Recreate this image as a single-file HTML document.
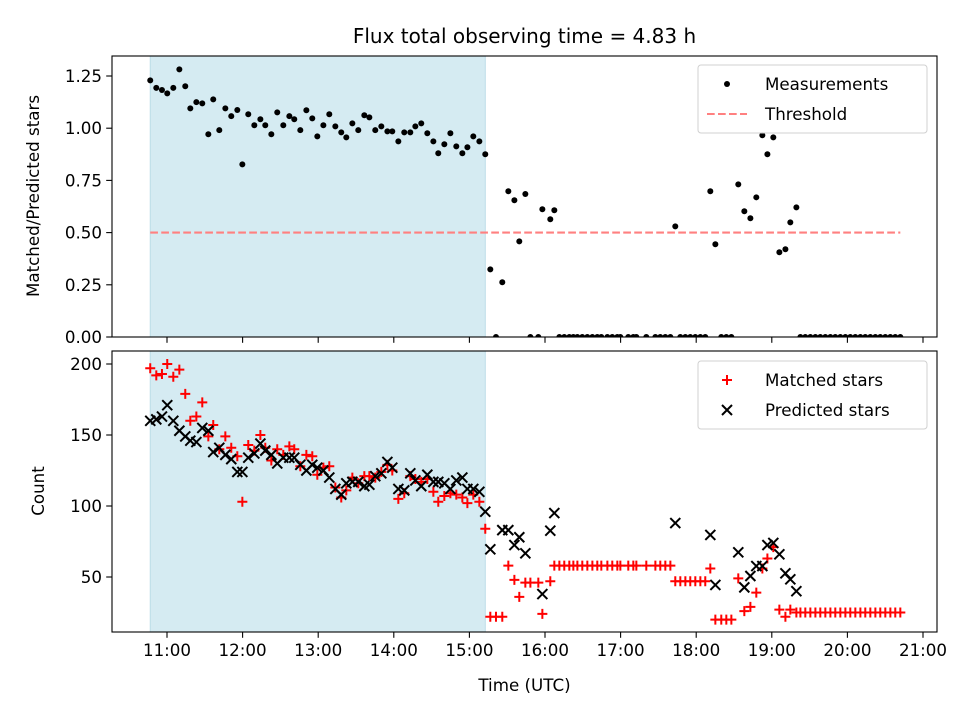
<!DOCTYPE html>
<html><head><meta charset="utf-8">
<style>
body{margin:0;background:#fff;}
svg{display:block;font-family:"DejaVu Sans","Liberation Sans",sans-serif;}
</style></head>
<body>
<svg id="chart" width="960" height="720" viewBox="0 0 960 720" xmlns="http://www.w3.org/2000/svg">
<defs>
<clipPath id="clipTop"><rect x="112" y="56" width="825" height="281"/></clipPath>
<clipPath id="clipBot"><rect x="112" y="351" width="825" height="281"/></clipPath>
</defs>
<rect width="960" height="720" fill="#fff"/>
<text x="524.5" y="43" font-size="20" text-anchor="middle">Flux total observing time = 4.83 h</text>
<g id="topAxes"></g>
<g id="botAxes"></g>
<text transform="translate(39,196) rotate(-90)" font-size="16.7" text-anchor="middle">Matched/Predicted stars</text>
<text transform="translate(44,491) rotate(-90)" font-size="16.7" text-anchor="middle">Count</text>
<text x="524.5" y="691" font-size="16.7" text-anchor="middle">Time (UTC)</text>
</svg>
<script>
// times in minutes since midnight (UTC)
const times = [646.7,651.5,656.0,660.2,665.0,669.8,674.5,678.5,683.3,688.0,692.8,696.7,701.5,706.3,711.0,715.8,719.8,724.5,729.3,734.1,738.0,742.8,747.5,752.3,757.1,761.0,765.8,770.6,775.3,779.3,784.1,788.8,793.6,798.3,802.3,807.1,811.8,816.6,820.6,825.3,830.1,834.9,838.8,843.6,848.3,853.1,857.1,861.8,866.6,871.4,875.3,880.1,884.9,889.6,894.4,898.4,903.1,907.9,912.6,
916.6,921.1,926.1,930.9,935.7,939.6,944.4,948.4,954.7,957.9,964.2,967.4,
971.4,975.3,979.3,982.5,985.7,989.6,993.6,997.6,1001.5,1004.7,1009.5,1013.4,1017.4,1019.8,1026.1,1030.1,1032.5,1040.4,1047.6,1051.5,1055.5,1059.5,
1063.4,1067.4,1071.4,1075.3,1079.3,1083.3,1087.2,1091.2,1095.2,1099.9,1103.9,1107.9,
1113.4,1118.2,1123.0,1127.7,1132.5,1136.5,1141.2,1146.0,1150.8,1154.7,1159.5,
1162.7,1166.6,1170.6,1174.6,1178.5,1182.5,1186.5,1190.4,1194.4,1198.4,1202.3,1206.3,1210.3,1214.2,1218.2,1222.2,1226.1,1230.1,1234.1,1238.0,1242.0];
const ratio = [1.229,1.193,1.183,1.167,1.193,1.282,1.201,1.095,1.125,1.119,0.971,1.138,0.991,1.095,1.058,1.087,0.827,1.067,1.014,1.043,1.014,0.971,1.076,1.014,1.058,1.043,0.991,1.086,1.047,0.961,1.014,1.067,1.009,0.980,0.956,1.023,0.991,1.062,1.052,0.991,1.009,0.985,0.985,0.937,0.980,0.980,1.009,1.023,0.976,0.937,0.880,0.923,0.976,0.913,0.880,0.909,0.961,0.937,0.875,
0.324,0,0.262,0.698,0.655,0.458,0.685,0,0,0.612,0.564,0.607,
0,0,0,0,0,0,0,0,0,0,0,0,0,0,0,0,0,0,0,0,0,0,
0.530,0,0,0,0,0,0,0.698,0.444,0,0,0,
0.731,0.602,0.569,0.669,0.966,0.875,0.956,0.406,0.420,0.549,0.621,
0,0,0,0,0,0,0,0,0,0,0,0,0,0,0,0,0,0,0,0,0];
const matched = [197,192,193,200,191,196,179,160,163,173,149,157,140,149,141,135,103,143,139,150,141,132,140,136,142,140,128,136,135,122,127,128,113,106,111,120,116,121,121,120,124,129,125,105,109,121,119,117,119,110,103,107,109,108,106,102,108,103,84,
22,22,22,58,48,36,46,46,46,24,47,58,
58,58,58,58,58,58,58,58,58,58,58,58,58,58,58,58,58,58,58,58,58,58,
47,47,47,47,47,47,47,56,20,20,20,20,
49,26,29,39,56,63,71,27,22,27,25,
25,25,25,25,25,25,25,25,25,25,25,25,25,25,25,25,25,25,25,25,25];
const predicted = [160,161,163,171,160,153,149,146,145,155,153,138,141,136,133,124,124,134,137,144,139,136,130,134,134,134,129,125,129,127,125,120,112,108,116,117,117,114,115,121,123,131,127,112,111,123,118,114,122,117,117,116,112,118,120,112,112,110,96,
69.5,null,83,83,72.5,78,66.7,null,null,38,82.6,95,
null,null,null,null,null,null,null,null,null,null,null,null,null,null,null,null,null,null,null,null,null,null,
88,null,null,null,null,null,null,79.6,44.4,null,null,null,
67.4,42.7,50.7,57.7,57.7,72.5,74,66,52.6,48.4,40,
null,null,null,null,null,null,null,null,null,null,null,null,null,null,null,null,null,null,null,null,null];
const threshold = 0.5;
const xTickLabels = ["11:00","12:00","13:00","14:00","15:00","16:00","17:00","18:00","19:00","20:00","21:00"];
const xTickMinutes = [660,720,780,840,900,960,1020,1080,1140,1200,1260];
const topTicks = [0,0.25,0.5,0.75,1.0,1.25];
const topTickLabels = ["0.00","0.25","0.50","0.75","1.00","1.25"];
const botTicks = [50,100,150,200];
const shadeStart = 646.7, shadeEnd = 912.6;

const NS="http://www.w3.org/2000/svg";
function mk(tag, attrs, parent){const e=document.createElementNS(NS,tag);for(const k in attrs)e.setAttribute(k,attrs[k]);parent.appendChild(e);return e;}
const X = t => 167 + (t-660)/60*75.6;
const YT = r => 337 - r*208.8;
const YB = c => 648 - c*1.42;
const topG=document.getElementById('topAxes'), botG=document.getElementById('botAxes');

function axesFrame(g, y0, y1, name, showLabels){
  const s=mk('rect',{x:X(shadeStart),y:y0,width:X(shadeEnd)-X(shadeStart),height:y1-y0,fill:'#d5ebf2',stroke:'#bcdde8','stroke-width':1},g);
  
  
  xTickMinutes.forEach((m,i)=>{
    const x=X(m);
    const t=mk('line',{x1:x,x2:x,y1:y1,y2:y1+5.8,stroke:'#000','stroke-width':1.1},g);
    
    
    if(showLabels){
      const l=mk('text',{x:x,y:y1+24,'font-size':16.7,'text-anchor':'middle'},g);
      l.textContent=xTickLabels[i];
      
      
    }
  });
}
axesFrame(topG,56,337,'top',false);
axesFrame(botG,351,632,'bottom',true);

topTicks.forEach((v,i)=>{
  const y=YT(v);
  const t=mk('line',{x1:106.2,x2:112,y1:y,y2:y,stroke:'#000','stroke-width':1.1},topG);
  
  
  const l=mk('text',{x:102,y:y+6,'font-size':16.7,'text-anchor':'end'},topG);
  l.textContent=topTickLabels[i];
  
  
});
botTicks.forEach(v=>{
  const y=YB(v);
  const t=mk('line',{x1:106.2,x2:112,y1:y,y2:y,stroke:'#000','stroke-width':1.1},botG);
  
  
  const l=mk('text',{x:102,y:y+6,'font-size':16.7,'text-anchor':'end'},botG);
  l.textContent=String(v);
  
  
});

const th=mk('line',{x1:X(times[0]),x2:X(times[times.length-1]),y1:YT(threshold),y2:YT(threshold),stroke:'#ff8080','stroke-width':2.1,'stroke-dasharray':'7.7,3.3'},topG);



const tg=mk('g',{'clip-path':'url(#clipTop)'},topG);
times.forEach((t,i)=>{
  const c=mk('circle',{cx:X(t),cy:YT(ratio[i]),r:3,fill:'#000'},tg);
  
  
});
const bg=mk('g',{'clip-path':'url(#clipBot)'},botG);
times.forEach((t,i)=>{
  const x=X(t), y=YB(matched[i]);
  const p=mk('path',{d:`M${x-5},${y}H${x+5}M${x},${y-5}V${y+5}`,stroke:'#ff0000','stroke-width':2,fill:'none'},bg);
  
  
});
times.forEach((t,i)=>{
  if(predicted[i]===null) return;
  const x=X(t), y=YB(predicted[i]);
  const p=mk('path',{d:`M${x-5},${y-5}L${x+5},${y+5}M${x-5},${y+5}L${x+5},${y-5}`,stroke:'#000','stroke-width':2,fill:'none'},bg);
  
  
});

[[topG,56,337],[botG,351,632]].forEach(([g,a,b])=>{
  const f=mk('rect',{x:112,y:a,width:825,height:b-a,fill:'none',stroke:'#000','stroke-width':1.1},g);
  
  
});

function legend(g,y0,items,name){
  const box=mk('rect',{x:698,y:y0,width:229,height:68,rx:3,fill:'#fff','fill-opacity':0.8,stroke:'#d0d0d0','stroke-width':1},g);
  
  
  items.forEach((it,i)=>{
    const y=y0+19+i*30;
    if(it.k==='dot') mk('circle',{cx:727,cy:y,r:3,fill:'#000'},g);
    if(it.k==='dash') mk('line',{x1:707,x2:747,y1:y,y2:y,stroke:'#ff8080','stroke-width':2.1,'stroke-dasharray':'7.7,3.3'},g);
    if(it.k==='plus') mk('path',{d:`M722,${y}H732M727,${y-5}V${y+5}`,stroke:'#f00','stroke-width':2},g);
    if(it.k==='x') mk('path',{d:`M722,${y-5}L732,${y+5}M722,${y+5}L732,${y-5}`,stroke:'#000','stroke-width':2},g);
    const l=mk('text',{x:765,y:y+6,'font-size':16.7},g);
    l.textContent=it.t;
    
    
  });
}
legend(topG,65,[{k:'dot',t:'Measurements'},{k:'dash',t:'Threshold'}],'top-legend');
legend(botG,361,[{k:'plus',t:'Matched stars'},{k:'x',t:'Predicted stars'}],'bottom-legend');
</script>
</body></html>
